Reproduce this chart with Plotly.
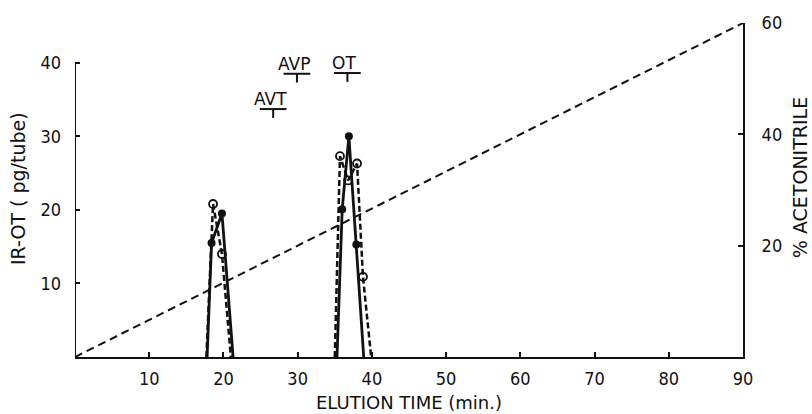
import plotly.graph_objects as go

# ---- data ----
peak1_filled_t = [17.8, 18.4, 19.8, 21.3]
peak1_filled_v = [0, 15.5, 19.5, 0]
peak1_open_t = [17.7, 18.6, 19.8, 21.0]
peak1_open_v = [0, 20.8, 14.0, 0]
peak2_filled_t = [35.3, 36.0, 36.9, 37.9, 38.9]
peak2_filled_v = [0, 20.1, 30.0, 15.3, 0]
peak2_open_t = [35.0, 35.7, 36.8, 38.0, 38.8, 39.9]
peak2_open_v = [0, 27.3, 24.0, 26.3, 10.9, 0]
gradient_t = [0, 90]
gradient_pct = [0, 60]
standards = ["AVT", "AVP", "OT"]
standard_t = [26.7, 29.9, 36.7]
standard_lvl = [33.7, 38.5, 38.6]
x_ticks = [10, 20, 30, 40, 50, 60, 70, 80, 90]
y_ticks = [10, 20, 30, 40]
y2_ticks = [20, 40, 60]

TICKFONT = "DejaVu Sans Condensed, Liberation Sans Narrow, sans-serif"
TITLEFONT = "DejaVu Sans, sans-serif"
BLACK = "#111111"

fig = go.Figure()

def ends_hidden(n):
    return [0] + [1] * (n - 2) + [0]

# gradient (right axis)
fig.add_trace(go.Scatter(x=gradient_t, y=gradient_pct, yaxis="y2", mode="lines",
                         line=dict(color=BLACK, width=2, dash="8px,5px"),
                         showlegend=False, hoverinfo="skip"))

for t, v in [(peak1_open_t, peak1_open_v), (peak2_open_t, peak2_open_v)]:
    fig.add_trace(go.Scatter(x=t, y=v, mode="lines+markers",
                             line=dict(color=BLACK, width=2.5, dash="6px,3px"),
                             marker=dict(symbol="circle-open", size=8, color=BLACK,
                                         line=dict(width=1.8, color=BLACK),
                                         opacity=ends_hidden(len(t))),
                             showlegend=False))
for t, v in [(peak1_filled_t, peak1_filled_v), (peak2_filled_t, peak2_filled_v)]:
    fig.add_trace(go.Scatter(x=t, y=v, mode="lines+markers",
                             line=dict(color=BLACK, width=2.8),
                             marker=dict(symbol="circle", size=8, color=BLACK,
                                         opacity=ends_hidden(len(t))),
                             showlegend=False))

shapes = []
annotations = []
# left axis line (0..40 only)
shapes.append(dict(type="line", xref="x", yref="y", x0=0, x1=0, y0=0, y1=40,
                   line=dict(color=BLACK, width=2)))
# standards markers
for name, t, lvl in zip(standards, standard_t, standard_lvl):
    half = 1.8
    shapes.append(dict(type="line", xref="x", yref="y", x0=t - half, x1=t + half,
                       y0=lvl, y1=lvl, line=dict(color=BLACK, width=2)))
    shapes.append(dict(type="line", xref="x", yref="y", x0=t, x1=t,
                       y0=lvl, y1=lvl - 1.2, line=dict(color=BLACK, width=2)))
    annotations.append(dict(x=t - 0.4, y=lvl, xref="x", yref="y", text=name,
                            showarrow=False, yanchor="bottom", yshift=-2,
                            font=dict(family=TITLEFONT, size=17, color=BLACK)))

n_std = len(annotations)
annotations.append(dict(x=18, y=185, text="IR-OT ( pg/tube)", textangle=-90))
annotations.append(dict(x=800, y=175, text="% ACETONITRILE", textangle=-90))
annotations.append(dict(x=409, y=403, text="ELUTION TIME (min.)"))

W, H = 812, 414
ML, MR, MT, MB = 75, 69, 17, 57
pw, ph = W - ML - MR, H - MT - MB
for a in annotations[n_std:]:
    a["x"] = (a["x"] - ML) / pw
    a["y"] = (H - MB - a["y"]) / ph
    a.update(xref="paper", yref="paper", showarrow=False, xanchor="center",
             yanchor="middle", font=dict(family=TITLEFONT, size=19, color=BLACK))
annotations[-1]["font"] = dict(family=TITLEFONT, size=18, color=BLACK)

tickfont = dict(family=TICKFONT, size=18, color=BLACK)
fig.update_layout(
    width=W, height=H,
    margin=dict(l=ML, r=MR, t=MT, b=MB),
    paper_bgcolor="white", plot_bgcolor="white",
    xaxis=dict(range=[0, 90], tickvals=x_ticks, ticks="inside", ticklen=5, tickwidth=1.5,
               tickcolor=BLACK, showline=True, linecolor=BLACK, linewidth=2,
               showgrid=False, zeroline=False, ticklabelstandoff=4, tickfont=tickfont),
    yaxis=dict(range=[0, 45.4], tickvals=y_ticks, ticks="inside", ticklen=5, tickwidth=1.5,
               tickcolor=BLACK, showline=False, showgrid=False, zeroline=False,
               ticklabelstandoff=13, tickfont=tickfont),
    yaxis2=dict(range=[0, 60], tickvals=y2_ticks, overlaying="y", side="right",
                ticks="inside", ticklen=5, tickwidth=1.5, tickcolor=BLACK,
                showline=True, linecolor=BLACK, linewidth=2, showgrid=False,
                zeroline=False, ticklabelstandoff=13, tickfont=tickfont),
    shapes=shapes, annotations=annotations, showlegend=False,
)

fig.write_html("out.html")
